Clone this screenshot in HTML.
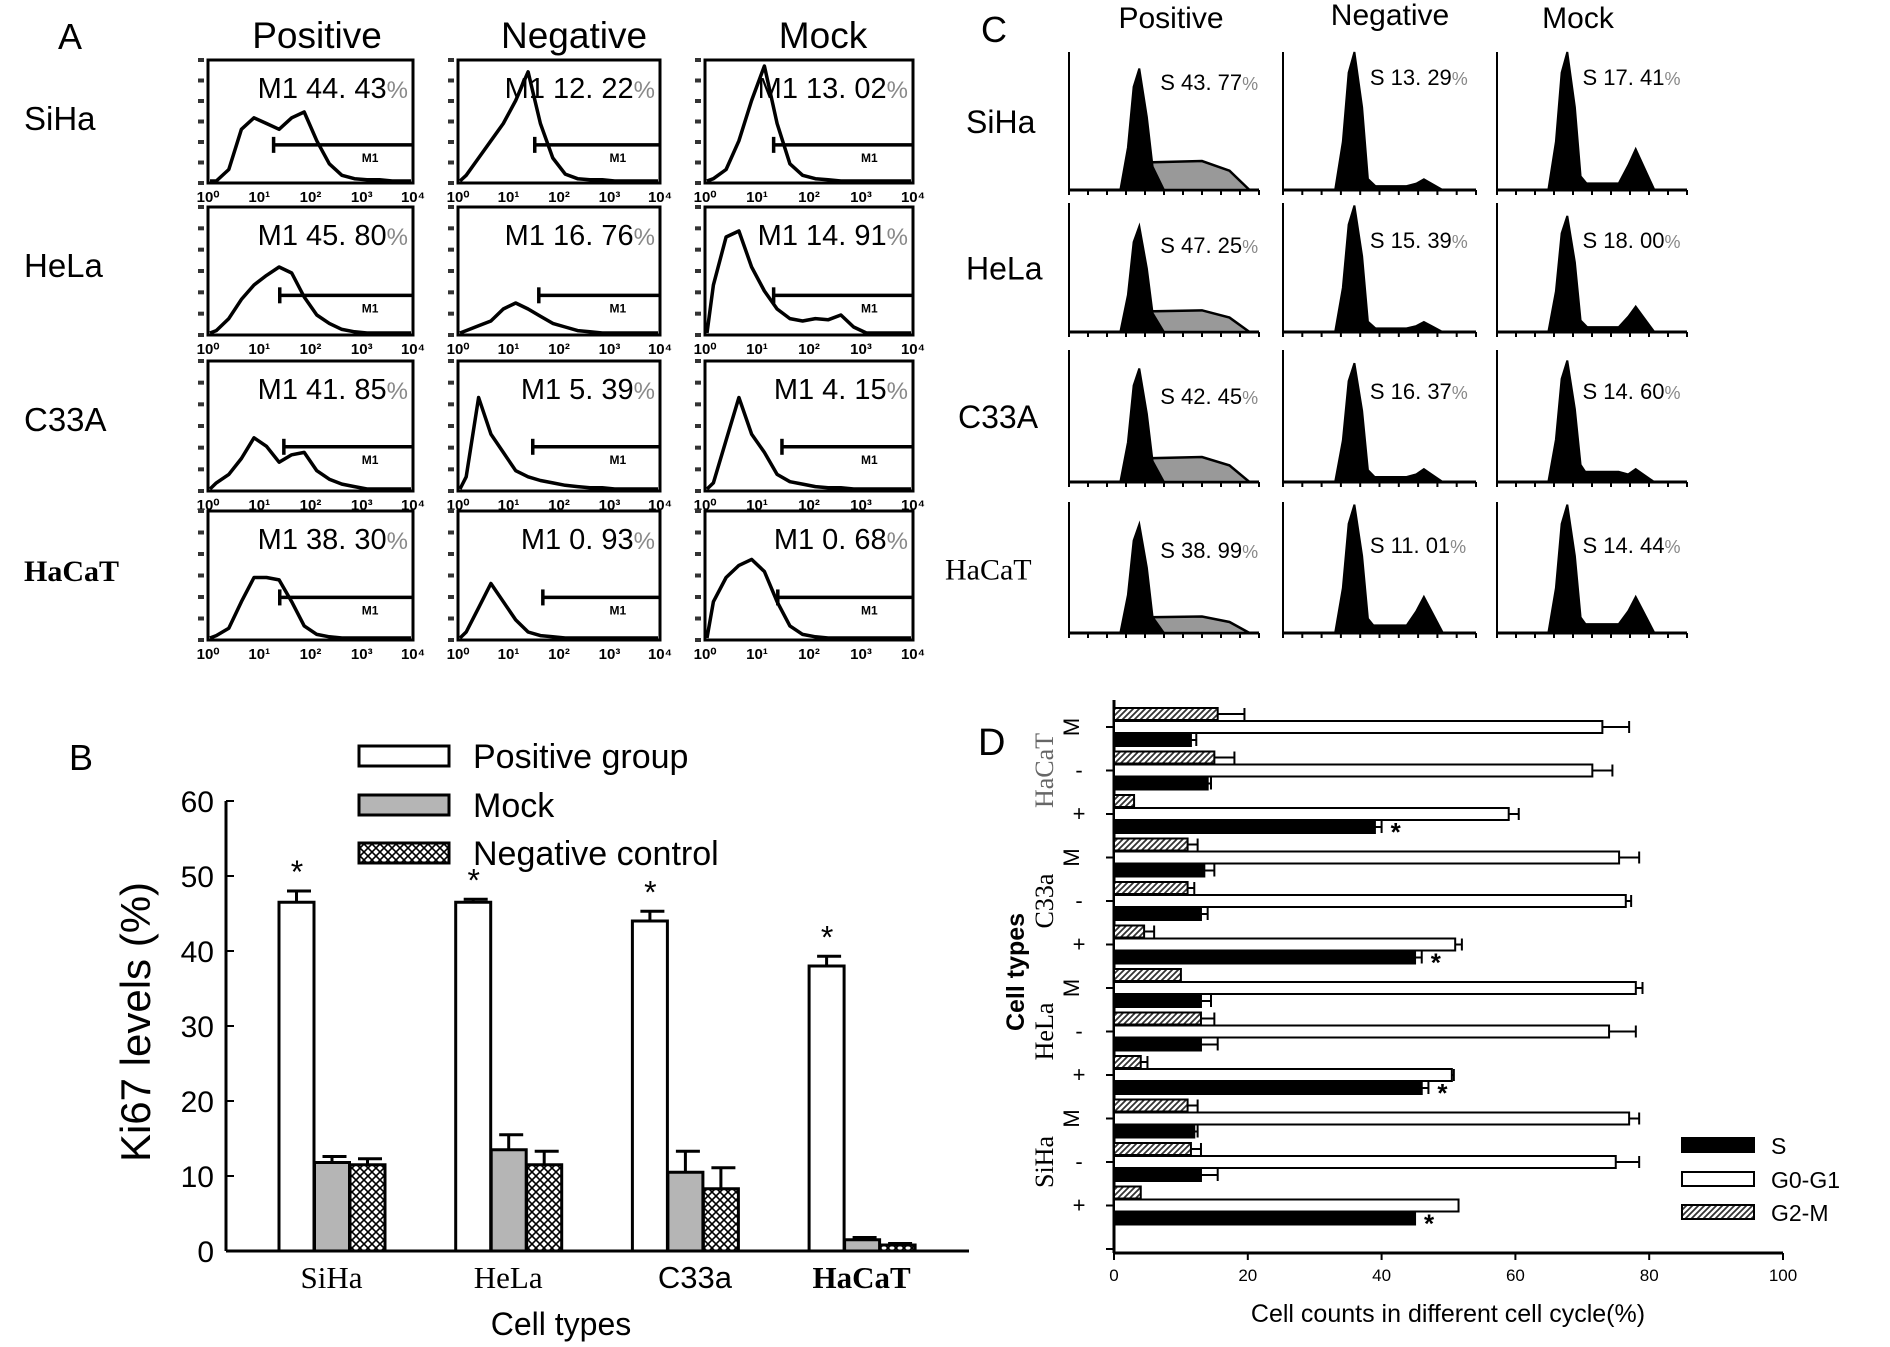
<!DOCTYPE html>
<html><head><meta charset="utf-8"><style>
body{margin:0;background:#fff}
svg{display:block}
text{font-family:"Liberation Sans",sans-serif}
.serif{font-family:"Liberation Serif",serif}
</style></head><body>
<svg id="fig" width="1890" height="1347" viewBox="0 0 1890 1347" xmlns="http://www.w3.org/2000/svg">
<defs>
<pattern id="xhatch" width="8" height="8" patternUnits="userSpaceOnUse"><rect width="8" height="8" fill="#fff"/><path d="M0,0L8,8M8,0L0,8" stroke="#000" stroke-width="1.6"/></pattern>
<pattern id="dhatch" width="6" height="6" patternUnits="userSpaceOnUse"><rect width="6" height="6" fill="#fff"/><path d="M0,6L6,0M-1,1L1,-1M5,7L7,5" stroke="#333" stroke-width="1.8"/></pattern>
</defs>
<g id="pA"></g>
<g id="pC"></g>
<g id="pB"></g>
<g id="pD"></g>
</svg>
<script>
// ---------- Panel A data ----------
const aRows = ["SiHa","HeLa","C33A","HaCaT"];
const aCols = ["Positive","Negative","Mock"];
const aPct = [["44. 43","12. 22","13. 02"],["45. 80","16. 76","14. 91"],["41. 85","5. 39","4. 15"],["38. 30","0. 93","0. 68"]];
const aHist = [
 [[0,0.1,0.45,0.55,0.5,0.45,0.55,0.6,0.35,0.15,0.05,0.02,0.01,0.01,0,0],
  [0.05,0.2,0.35,0.5,0.7,0.95,0.5,0.2,0.06,0.02,0.01,0.01,0,0,0,0],
  [0.02,0.1,0.35,0.7,1.0,0.5,0.15,0.05,0.02,0.01,0,0,0,0,0,0]],
 [[0.02,0.12,0.28,0.4,0.48,0.55,0.5,0.3,0.15,0.08,0.03,0.01,0,0,0,0],
  [0.02,0.06,0.1,0.2,0.25,0.2,0.14,0.08,0.05,0.02,0.01,0,0,0,0,0],
  [0.4,0.8,0.85,0.55,0.35,0.2,0.12,0.1,0.12,0.11,0.15,0.05,0,0,0,0]],
 [[0.05,0.12,0.25,0.42,0.35,0.22,0.28,0.3,0.15,0.08,0.04,0.02,0,0,0,0],
  [0.1,0.75,0.45,0.3,0.15,0.1,0.07,0.05,0.03,0.02,0.01,0.01,0,0,0,0],
  [0.05,0.4,0.75,0.45,0.3,0.12,0.06,0.04,0.02,0.01,0.01,0,0,0,0,0]],
 [[0.02,0.08,0.3,0.5,0.5,0.48,0.3,0.1,0.03,0.01,0,0,0,0,0,0],
  [0.05,0.25,0.45,0.3,0.15,0.05,0.02,0.01,0,0,0,0,0,0,0,0],
  [0.3,0.5,0.6,0.65,0.55,0.3,0.1,0.03,0.01,0,0,0,0,0,0,0]]];
const aGate = [[0.32,0.38,0.33],[0.35,0.4,0.33],[0.37,0.37,0.37],[0.35,0.42,0.35]];
const aGateY = [0.31,0.31,0.34,0.33];
// ---------- Panel C data ----------
const cPct = [["43. 77","13. 29","17. 41"],["47. 25","15. 39","18. 00"],["42. 45","16. 37","14. 60"],["38. 99","11. 01","14. 44"]];
const cG1 = [[0.88,1.0,1.0],[0.82,0.98,0.9],[0.86,0.9,0.92],[0.83,0.98,0.98]];
const cS = [[0.2,0.03,0.05],[0.16,0.03,0.04],[0.18,0.04,0.08],[0.12,0.06,0.07]];
const cG2 = [[0.1,0.08,0.3],[0.06,0.08,0.2],[0.08,0.1,0.1],[0.04,0.28,0.28]];
// ---------- Panel B data ----------
const bCats = ["SiHa","HeLa","C33a","HaCaT"];
const bSeries = ["Positive group","Mock","Negative control"];
const bPos = [46.5,46.5,44,38];
const bPosErr = [1.5,0.4,1.3,1.3];
const bMock = [11.8,13.5,10.5,1.5];
const bMockErr = [0.8,2,2.8,0.3];
const bNeg = [11.5,11.5,8.3,0.8];
const bNegErr = [0.8,1.8,2.8,0.2];
const bTicks = [0,10,20,30,40,50,60];
// ---------- Panel D data ----------
const dCells = ["SiHa","HeLa","C33a","HaCaT"];
const dConds = ["+","-","M"];
const dS = [45,13,12, 46,13,13, 45,13,13.5, 39,14,11.5];
const dSErr = [0,2.5,0.5, 1,2.5,1.5, 1,1,1.5, 1,0.5,0.8];
const dG0 = [51.5,75,77, 50.5,74,78, 51,76.5,75.5, 59,71.5,73];
const dG0Err = [0,3.5,1.5, 0.3,4,1, 1,0.8,3, 1.5,3,4];
const dG2 = [4,11.5,11, 4,13,10, 4.5,11,11, 3,15,15.5];
const dG2Err = [0,1.5,1.5, 1,2,0, 1.5,1,1.5, 0,3,4];
const dTicks = [0,20,40,60,80,100];

const NS="http://www.w3.org/2000/svg";
function mk(parent,tag,attrs,txt){const e=document.createElementNS(NS,tag);for(const k in attrs)e.setAttribute(k,attrs[k]);if(txt!==undefined)e.textContent=txt;parent.appendChild(e);return e;}

// ===== Panel A =====
(function(){
 const g=document.getElementById('pA');
 let t=mk(g,'text',{x:58,y:49,'font-size':36},'A');
 
 
 const colX=[208,458,705], colW=[205,202,208];
 const rowY=[60,207,361,511], rowH=[123,128,130,129];
 const hdrX=[317,574,823];
 aCols.forEach((c,j)=>{const e=mk(g,'text',{x:hdrX[j],y:48,'font-size':37,'text-anchor':'middle'},c);
  
  });
 aRows.forEach((r,i)=>{
  const e=mk(g,'text',{x:24,y:rowY[i]+70,'font-size':i==3?30:33,'font-weight':i==3?'bold':'normal','class':i==3?'serif':''},r);
  
  
  aCols.forEach((c,j)=>{
   const x0=colX[j],y0=rowY[i],w=colW[j],h=rowH[i];
   const box=mk(g,'rect',{x:x0,y:y0,width:w,height:h,fill:'none',stroke:'#000','stroke-width':3});
   
   
   for(let k=0;k<=6;k++){mk(g,'rect',{x:x0-10,y:y0+h-k*h/6-2,width:6,height:4,fill:'#333'});}
   for(let k=0;k<=4;k++){mk(g,'text',{x:x0+k*w/4,y:y0+h+19,'font-size':15,'font-weight':'bold','text-anchor':'middle'},'10'+['⁰','¹','²','³','⁴'][k]);}
   const hist=aHist[i][j];const n=hist.length;
   let d='M'+(x0+2)+','+(y0+h-2);
   hist.forEach((v,k)=>{d+=' L'+(x0+2+(k+0.5)*(w-4)/n).toFixed(1)+','+(y0+h-2-v*(h-8)).toFixed(1);});
   d+=' L'+(x0+w-2)+','+(y0+h-2);
   const p=mk(g,'path',{d:d,fill:'none',stroke:'#000','stroke-width':3.5,'stroke-linejoin':'round'});
   
   
   const gx=x0+aGate[i][j]*w, gy=y0+h-aGateY[i]*h;
   mk(g,'line',{x1:gx,y1:gy,x2:x0+w,y2:gy,stroke:'#000','stroke-width':3.5});
   mk(g,'line',{x1:gx,y1:gy-8,x2:gx,y2:gy+8,stroke:'#000','stroke-width':3.5});
   mk(g,'text',{x:x0+w*0.75,y:gy+17,'font-size':12,'font-weight':'bold'},'M1');
   const pt=mk(g,'text',{x:x0+w-5,y:y0+38,'font-size':29,'text-anchor':'end'});
   
   
   mk(pt,'tspan',{},'M1  '+aPct[i][j]);mk(pt,'tspan',{fill:'#888','font-size':24},'%');
  });
 });
})();

// ===== Panel C =====
(function(){
 const g=document.getElementById('pC');
 let t=mk(g,'text',{x:981,y:42,'font-size':36},'C');
 
 
 const colX=[1069,1283,1497], colW=[190,193,190];
 const rowT=[52,203,350,502], rowB=[190,332,482,633];
 const hdr=[[1171,28],[1390,25],[1578,28]];
 aCols.forEach((c,j)=>{const e=mk(g,'text',{x:hdr[j][0],y:hdr[j][1],'font-size':30,'text-anchor':'middle'},c);
  
  });
 aRows.forEach((r,i)=>{
  const e=mk(g,'text',{x:i==3?945:(i==2?958:966),y:(rowT[i]+rowB[i])/2+12,'font-size':i==3?30:32,'class':i==3?'serif':''},r);
  
  
  aCols.forEach((c,j)=>{
   const x0=colX[j],yT=rowT[i],yB=rowB[i],w=colW[j],h=yB-yT;
   mk(g,'line',{x1:x0,y1:yT,x2:x0,y2:yB,stroke:'#000','stroke-width':2});
   mk(g,'line',{x1:x0,y1:yB,x2:x0+w,y2:yB,stroke:'#000','stroke-width':3});
   for(let k=0;k<=10;k++){mk(g,'line',{x1:x0+k*w/10,y1:yB,x2:x0+k*w/10,y2:yB+5,stroke:'#000','stroke-width':2});}
   const Y=v=>yB-v*h;
   const sEnd=j==0?0.95:0.85;
   if(j==0){const sp=mk(g,'path',{d:`M${x0+0.4*w},${yB} L${x0+0.42*w},${Y(cS[i][j])} L${x0+0.7*w},${Y(cS[i][j]*1.05)} L${x0+sEnd*w-20},${Y(cS[i][j]*0.7)} L${x0+sEnd*w},${yB} Z`,fill:'#999',stroke:'#000','stroke-width':2.5});
    
    }
   const d=`M${x0+0.27*w},${yB} L${x0+0.31*w},${Y(cG1[i][j]*0.35)} L${x0+0.34*w},${Y(cG1[i][j]*0.85)} L${x0+0.37*w},${Y(cG1[i][j])} L${x0+0.41*w},${Y(cG1[i][j]*0.6)} L${x0+0.44*w},${Y(cS[i][j]*(j==0?0.6:1)+0.05)} L${x0+0.5*w},${yB} Z`;
   const p=mk(g,'path',{d:d,fill:'#000',stroke:'#000','stroke-width':2});
   
   
   if(j>0){const q=mk(g,'path',{d:`M${x0+0.42*w},${yB} L${x0+0.43*w},${Y(cS[i][j])} L${x0+0.64*w},${Y(cS[i][j])} L${x0+0.69*w},${Y(cG2[i][j]*0.6)} L${x0+0.73*w},${Y(cG2[i][j])} L${x0+0.77*w},${Y(cG2[i][j]*0.6)} L${x0+0.83*w},${yB} Z`,fill:'#000',stroke:'#000','stroke-width':1.5});
    
    }
   const pt=mk(g,'text',{x:j==0?x0+w*0.48:x0+w*0.45,y:[85,248,399,553][i]+(j==0?5:0),'font-size':22});
   
   
   mk(pt,'tspan',{},'S '+cPct[i][j]);mk(pt,'tspan',{fill:'#888','font-size':18},'%');
  });
 });
})();

// ===== Panel B =====
(function(){
 const g=document.getElementById('pB');
 const y0=1251, ppu=7.5, ax=226;
 const Y=v=>y0-v*ppu;
 const X=(gi,si)=>279+gi*176.7+si*35.5;
 let t=mk(g,'text',{x:69,y:770,'font-size':36},'B');
 
 
 mk(g,'line',{x1:ax,y1:Y(60),x2:ax,y2:y0,stroke:'#000','stroke-width':3});
 mk(g,'line',{x1:ax,y1:y0,x2:969,y2:y0,stroke:'#000','stroke-width':3});
 bTicks.forEach(v=>{mk(g,'line',{x1:ax,y1:Y(v),x2:ax+8,y2:Y(v),stroke:'#000','stroke-width':2});
  const e=mk(g,'text',{x:ax-12,y:Y(v)+11,'font-size':30,'text-anchor':'end'},v);
  
  });
 const yt=mk(g,'text',{x:0,y:0,'font-size':42,'text-anchor':'middle',transform:'translate(150,1022) rotate(-90)'},'Ki67  levels (%)');
 
 
 const series=[[bPos,bPosErr,'#fff'],[bMock,bMockErr,'#b5b5b5'],[bNeg,bNegErr,'url(#xhatch)']];
 bCats.forEach((c,gi)=>{
  series.forEach((s,si)=>{
   const v=s[0][gi],e=s[1][gi],x=X(gi,si);
   const r=mk(g,'rect',{x:x,y:Y(v),width:35,height:v*ppu,fill:s[2],stroke:'#000','stroke-width':3});
   
   
   mk(g,'line',{x1:x+17.5,y1:Y(v),x2:x+17.5,y2:Y(v+e),stroke:'#000','stroke-width':3});
   mk(g,'line',{x1:x+8,y1:Y(v+e),x2:x+32,y2:Y(v+e),stroke:'#000','stroke-width':3});
   if(si==0){const a=mk(g,'text',{x:x+18,y:Y(v+e)-8,'font-size':32,'text-anchor':'middle'},'*');
    
    }
  });
  const cl=mk(g,'text',{x:X(gi,1)+17+(gi==2?10:0),y:1288,'font-size':31,'text-anchor':'middle','class':gi==2?'':'serif','font-weight':gi==3?'bold':'normal'},c);
  
  
 });
 const xt=mk(g,'text',{x:561,y:1335,'font-size':32,'text-anchor':'middle'},'Cell  types');
 
 
 const lf=['#fff','#b5b5b5','url(#xhatch)'];
 bSeries.forEach((s,i)=>{const ly=[756,805,853][i];
  const r=mk(g,'rect',{x:359,y:ly-10,width:90,height:20,fill:lf[i],stroke:'#000','stroke-width':3});
  
  
  const e=mk(g,'text',{x:473,y:ly+12,'font-size':34},s);
  
  });
})();

// ===== Panel D =====
(function(){
 const g=document.getElementById('pD');
 const ax=1114, yb=1253, ppu=6.69, slot=43.5;
 const X=v=>ax+v*ppu;
 const Yc=i=>1249-(i+1)*slot;
 let t=mk(g,'text',{x:978,y:755,'font-size':38},'D');
 
 
 mk(g,'line',{x1:ax,y1:700,x2:ax,y2:yb,stroke:'#000','stroke-width':3});
 mk(g,'line',{x1:ax,y1:yb,x2:X(100),y2:yb,stroke:'#000','stroke-width':3});
 mk(g,'line',{x1:ax-8,y1:1249,x2:ax,y2:1249,stroke:'#000','stroke-width':2});
 dTicks.forEach(v=>{mk(g,'line',{x1:X(v),y1:yb,x2:X(v),y2:yb+7,stroke:'#000','stroke-width':2});
  const e=mk(g,'text',{x:X(v),y:yb+28,'font-size':17,'text-anchor':'middle'},v);
  
  });
 const xt=mk(g,'text',{x:1448,y:1322,'font-size':25,'text-anchor':'middle'},'Cell counts in different cell cycle(%)');
 
 
 const yt=mk(g,'text',{x:0,y:0,'font-size':25,'font-weight':'bold','text-anchor':'middle',transform:'translate(1024,972) rotate(-90)'},'Cell  types');
 
 
 dCells.forEach((c,ci)=>{const cy=Yc(ci*3+1);
  const e=mk(g,'text',{x:0,y:0,'font-size':26,'class':'serif','fill':ci==3?'#666':'#000','text-anchor':'middle',transform:`translate(1053,${cy}) rotate(-90)`},c);
  
  });
 const rows=[[dG2,dG2Err,'url(#dhatch)',-13,'g2m'],[dG0,dG0Err,'#fff',0,'g0g1'],[dS,dSErr,'#000',13,'s']];
 dS.forEach((_,i)=>{
  const cy=Yc(i);
  mk(g,'line',{x1:ax-8,y1:cy,x2:ax,y2:cy,stroke:'#000','stroke-width':2});
  const cl=mk(g,'text',{x:1079,y:cy+(dConds[i%3]=='M'?0:7),'font-size':22,'text-anchor':'middle',transform:dConds[i%3]=='M'?`rotate(-90 1079 ${cy})`:''},dConds[i%3]);
  
  
  rows.forEach(r=>{const v=r[0][i],e=r[1][i],y=cy+r[3];
   const b=mk(g,'rect',{x:ax,y:y-6,width:v*ppu,height:12,fill:r[2],stroke:'#000','stroke-width':2});
   
   
   if(e>0){mk(g,'line',{x1:X(v),y1:y,x2:X(v+e),y2:y,stroke:'#000','stroke-width':2});
    mk(g,'line',{x1:X(v+e),y1:y-6,x2:X(v+e),y2:y+6,stroke:'#000','stroke-width':2});}
  });
  if(i%3==0){const a=mk(g,'text',{x:X(dS[i]+dSErr[i])+9,y:cy+13+14,'font-size':26,'font-weight':'bold'},'*');
   
   }
 });
 const lg=[['S','#000'],['G0-G1','#fff'],['G2-M','url(#dhatch)']];
 lg.forEach((l,i)=>{const ly=[1145,1179,1212][i];
  const r=mk(g,'rect',{x:1682,y:ly-7,width:72,height:14,fill:l[1],stroke:'#000','stroke-width':2});
  
  
  const e=mk(g,'text',{x:1771,y:ly+9,'font-size':23},l[0]);
  
  });
})();
</script>
</body></html>
